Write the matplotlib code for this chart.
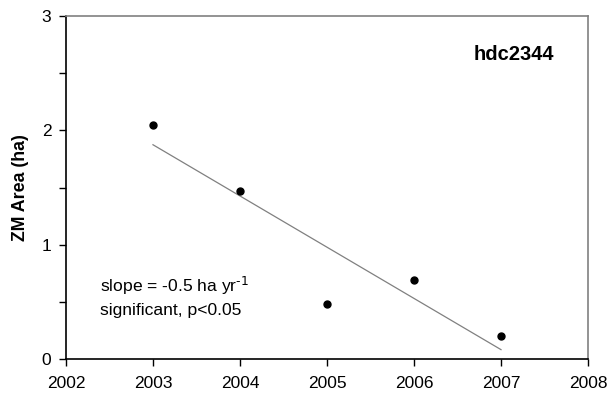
import matplotlib
matplotlib.use('Agg')
import matplotlib.pyplot as plt
import numpy as np

plt.rcParams['font.family'] = ['Liberation Sans', 'DejaVu Sans']
plt.rcParams['mathtext.default'] = 'regular'

years = [2003, 2004, 2005, 2006, 2007]
area = [2.05, 1.47, 0.48, 0.69, 0.20]
x_ticks = [2002, 2003, 2004, 2005, 2006, 2007, 2008]
y_ticks = [0, 1, 2, 3]

# linear fit, drawn over the data span only
slope, icpt = np.polyfit(years, area, 1)
fit_x = np.array([years[0], years[-1]])
fit_y = slope * fit_x + icpt

fig = plt.figure(figsize=(6.12, 3.96), dpi=100)
ax = fig.add_axes([0.1078, 0.0934, 0.853, 0.8662])

ax.plot(fit_x, fit_y, color='#808080', lw=0.9, zorder=2)
ax.plot(years, area, 'o', color='black', markersize=5, zorder=3)

ax.set_xlim(2002, 2008)
ax.set_ylim(0, 3)
ax.set_xticks(x_ticks)
ax.set_yticks(y_ticks)
ax.set_yticks([0.5, 1.5, 2.5], minor=True)
ax.tick_params(axis='both', which='major', direction='out', length=5, width=1,
               labelsize=12.5)
ax.tick_params(axis='x', which='major', pad=7.5)
ax.tick_params(axis='y', which='major', pad=5.5)
ax.tick_params(axis='y', which='minor', direction='out', length=5, width=1)

for s in ['top', 'right']:
    ax.spines[s].set_color('#808080')
    ax.spines[s].set_linewidth(1.2)
for s in ['left', 'bottom']:
    ax.spines[s].set_color('black')
    ax.spines[s].set_linewidth(1.2)

ax.set_ylabel('ZM Area (ha)', fontsize=12.8, fontweight='bold', labelpad=9)

ax.text(2002.39, 0.586, r'slope = -0.5 ha yr$^{\text{-1}}$', fontsize=12.6,
        ha='left', va='baseline')
ax.text(2002.39, 0.385, 'significant, p<0.05', fontsize=12.6,
        ha='left', va='baseline')
ax.text(2007.61, 2.66, 'hdc2344', fontsize=14.5, fontweight='bold',
        ha='right', va='center')

fig.savefig('out.png', dpi=100)
